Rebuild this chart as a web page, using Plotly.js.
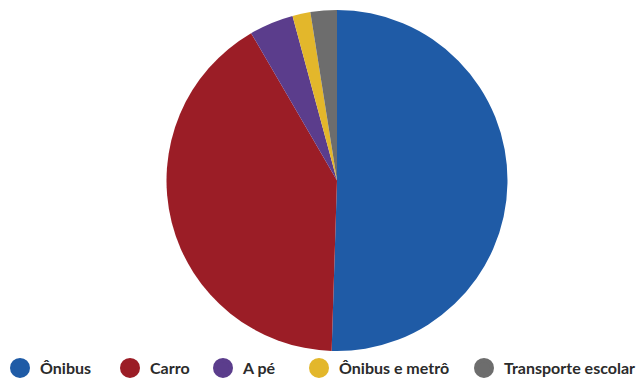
<!DOCTYPE html>
<html>
<head>
<meta charset="utf-8">
<script src="https://cdn.plot.ly/plotly-3.0.1.min.js"></script>
<style>html,body{margin:0;padding:0;background:#fff;}#chart{width:642px;height:380px;}</style>
</head>
<body>
<div id="chart"></div>
<script>
const categories = ["Ônibus", "Carro", "A pé", "Ônibus e metrô", "Transporte escolar"];
const shares = [50.5, 41.1, 4.2, 1.7, 2.5];
const colors = ["#1f5ba6", "#9b1d26", "#5b3d8c", "#e3b72b", "#6d6d6d"];
const legendStartPx = [0, 110, 203, 299, 464];

const traces = [{
  type: "pie",
  labels: categories,
  values: shares,
  sort: false,
  direction: "clockwise",
  rotation: 0,
  textinfo: "none",
  hoverinfo: "label+percent",
  showlegend: false,
  marker: {colors: colors, line: {width: 0}},
  domain: {x: [166/642, 508/642], y: [1 - 351/380, 1 - 10/380]}
}];
const legendNames = categories.map((c, i) => i === 0 ? "legend" : "legend" + (i + 1));
categories.forEach((c, i) => {
  traces.push({
    type: "scatter",
    mode: "markers",
    x: [null], y: [null],
    name: c,
    legend: legendNames[i],
    showlegend: true,
    hoverinfo: "skip",
    marker: {symbol: "circle", size: 16, color: colors[i], line: {color: colors[i], width: 4}}
  });
});

const layout = {
  width: 642, height: 380,
  margin: {l: 0, r: 0, t: 0, b: 0, autoexpand: false},
  paper_bgcolor: "#ffffff",
  plot_bgcolor: "#ffffff",
  xaxis: {visible: false},
  yaxis: {visible: false},
  showlegend: true
};
legendNames.forEach((ln, i) => {
  layout[ln] = {
    orientation: "h",
    x: legendStartPx[i] / 642, xanchor: "left",
    y: 1 - 368/380, yanchor: "middle",
    font: {family: "Lato, sans-serif", size: 16, color: "#2b2b2b", weight: 700},
    itemclick: false, itemdoubleclick: false,
    bgcolor: "rgba(0,0,0,0)"
  };
});
Plotly.newPlot("chart", traces, layout, {displayModeBar: false, staticPlot: true});
</script>
</body>
</html>
